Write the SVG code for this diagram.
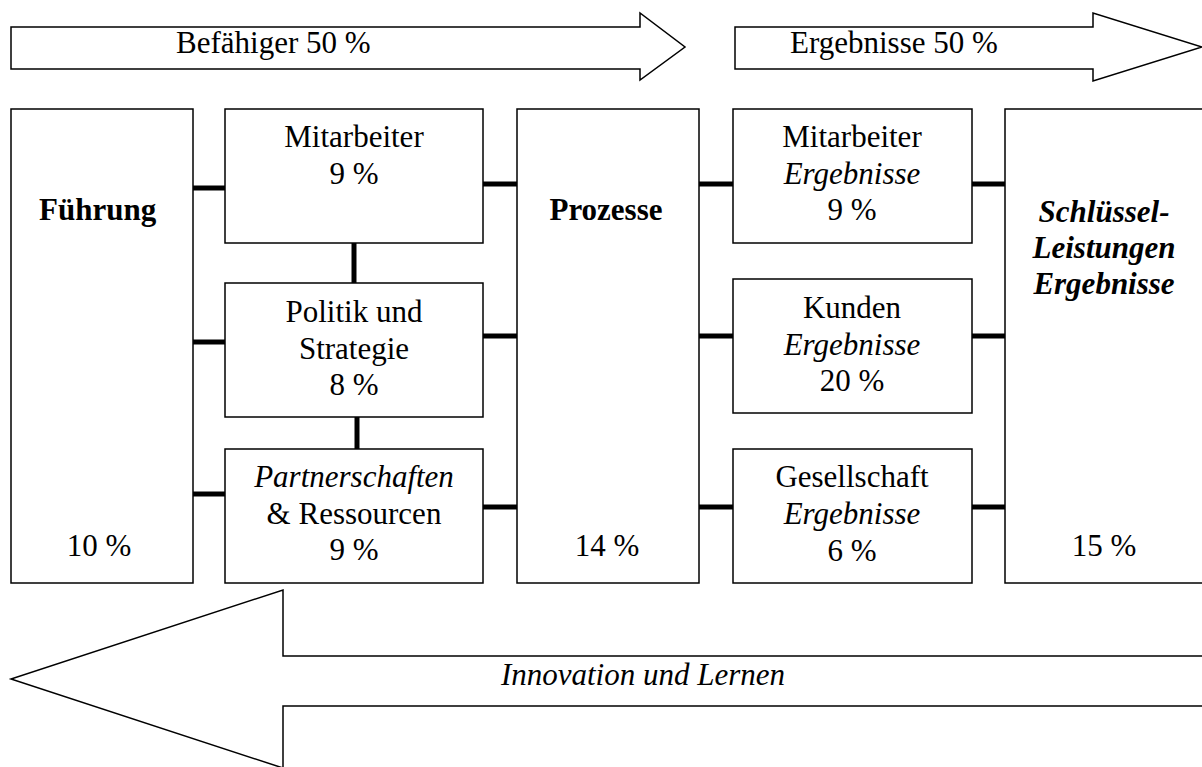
<svg xmlns="http://www.w3.org/2000/svg" width="1202" height="767" viewBox="0 0 1202 767">
<style>
.box{fill:#fff;stroke:#000;stroke-width:1.5}
.arr{fill:#fff;stroke:#000;stroke-width:1.5;stroke-linejoin:miter}
.con line{stroke:#000;stroke-width:5}
text{font-family:"Liberation Serif","Times New Roman",serif;font-size:31px;fill:#000}
.c{text-anchor:middle}
.b{font-weight:bold}
.i{font-style:italic}
</style>
<rect width="1202" height="767" fill="#fff"/>
<g id="arrow-befaehiger">
<polygon class="arr" points="11,27 640,27 640,13 685,47 640,80 640,69 11,69"/>
<text x="176" y="53">Befähiger 50 %</text>
</g>
<g id="arrow-ergebnisse">
<polygon class="arr" points="735,27 1093,27 1093,13 1202,47 1093,81 1093,69 735,69"/>
<text x="790" y="53">Ergebnisse 50 %</text>
</g>
<g id="arrow-innovation">
<polygon class="arr" points="1210,656 283,656 283,590 11,679 283,768 283,706 1210,706"/>
<text class="c i" x="643" y="685">Innovation und Lernen</text>
</g>
<g class="con" id="connectors">
<line x1="193" y1="188" x2="225" y2="188"/>
<line x1="193" y1="342" x2="225" y2="342"/>
<line x1="193" y1="494" x2="225" y2="494"/>
<line x1="354" y1="243" x2="354" y2="283"/>
<line x1="357" y1="417" x2="357" y2="449"/>
<line x1="483" y1="184" x2="517" y2="184"/>
<line x1="483" y1="336" x2="517" y2="336"/>
<line x1="483" y1="507" x2="517" y2="507"/>
<line x1="699" y1="184" x2="733" y2="184"/>
<line x1="699" y1="336" x2="733" y2="336"/>
<line x1="699" y1="507" x2="733" y2="507"/>
<line x1="972" y1="184" x2="1005" y2="184"/>
<line x1="972" y1="336" x2="1005" y2="336"/>
<line x1="972" y1="507" x2="1005" y2="507"/>
</g>
<g id="fuehrung">
<rect class="box" x="11" y="109" width="182" height="474"/>
<text class="b" x="39" y="220">Führung</text>
<text class="c" x="99" y="556">10 %</text>
</g>
<g id="mitarbeiter">
<rect class="box" x="225" y="109" width="258" height="134"/>
<text class="c" x="354" y="147">Mitarbeiter</text>
<text class="c" x="354" y="184">9 %</text>
</g>
<g id="politik">
<rect class="box" x="225" y="283" width="258" height="134"/>
<text class="c" x="354" y="322">Politik und</text>
<text class="c" x="354" y="359">Strategie</text>
<text class="c" x="354" y="395">8 %</text>
</g>
<g id="partnerschaften">
<rect class="box" x="225" y="449" width="258" height="134"/>
<text class="c i" x="354" y="487">Partnerschaften</text>
<text class="c" x="354" y="524">&amp; Ressourcen</text>
<text class="c" x="354" y="560">9 %</text>
</g>
<g id="prozesse">
<rect class="box" x="517" y="109" width="182" height="474"/>
<text class="c b" x="606" y="220">Prozesse</text>
<text class="c" x="607" y="556">14 %</text>
</g>
<g id="mitarbeiter-ergebnisse">
<rect class="box" x="733" y="109" width="239" height="134"/>
<text class="c" x="852" y="147">Mitarbeiter</text>
<text class="c i" x="852" y="184">Ergebnisse</text>
<text class="c" x="852" y="220">9 %</text>
</g>
<g id="kunden-ergebnisse">
<rect class="box" x="733" y="279" width="239" height="134"/>
<text class="c" x="852" y="318">Kunden</text>
<text class="c i" x="852" y="355">Ergebnisse</text>
<text class="c" x="852" y="391">20 %</text>
</g>
<g id="gesellschaft-ergebnisse">
<rect class="box" x="733" y="449" width="239" height="134"/>
<text class="c" x="852" y="487">Gesellschaft</text>
<text class="c i" x="852" y="524">Ergebnisse</text>
<text class="c" x="852" y="561">6 %</text>
</g>
<g id="schluessel">
<rect class="box" x="1005" y="109" width="210" height="474"/>
<text class="c b i" x="1104" y="222">Schlüssel-</text>
<text class="c b i" x="1104" y="258">Leistungen</text>
<text class="c b i" x="1104" y="294">Ergebnisse</text>
<text class="c" x="1104" y="556">15 %</text>
</g>
</svg>
